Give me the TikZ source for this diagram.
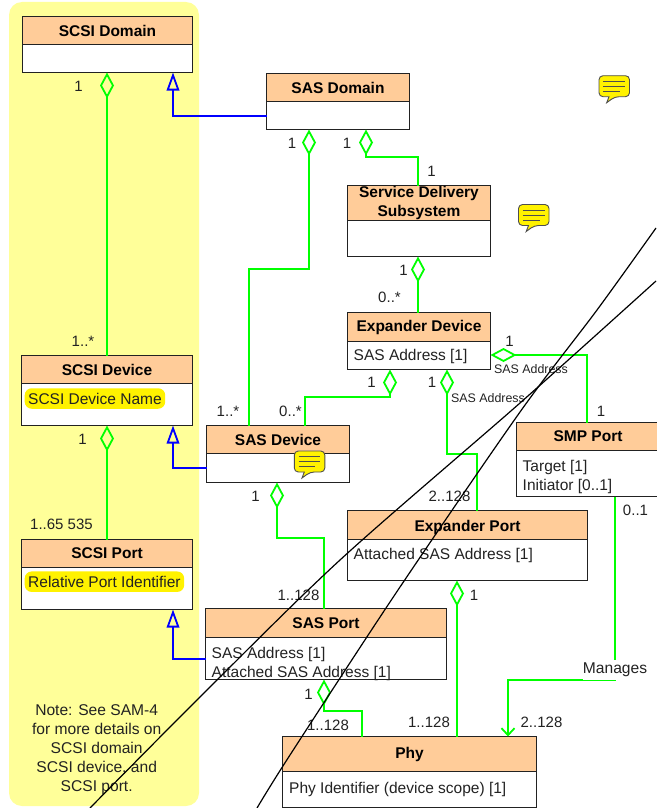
\documentclass[tikz,border=0pt]{standalone}
\usepackage{fontspec}
\setmainfont{Liberation Sans}
\usetikzlibrary{arrows.meta, positioning}

\definecolor{headcolor}{HTML}{FFCC99}
\definecolor{notecolor}{HTML}{FFFF99}
\definecolor{linkgreen}{HTML}{00FF00}
\definecolor{linkblue}{HTML}{0000FF}
\definecolor{boxline}{HTML}{222222}

\tikzset{
    classhead/.style={draw=boxline, fill=headcolor, line width=1pt, inner sep=0pt, outer sep=0pt, anchor=north west, align=center, font=\fontsize{15.5}{19}\selectfont\bfseries},
    classbody/.style={draw=boxline, fill=white, line width=1pt, inner sep=0pt, outer sep=0pt},
    attrtext/.style={inner sep=0pt, anchor=west, align=left, text=boxline, font=\fontsize{15.5}{18.3}\selectfont},
    keyattr/.style={fill=yellow, rounded corners=7pt, inner xsep=3.5pt, inner ysep=0pt, minimum height=20.5pt, anchor=west, text=boxline, font=\fontsize{15.5}{18}\selectfont},
    mult/.style={inner sep=0pt, text=boxline, font=\fontsize{15}{18}\selectfont},
    rolename/.style={inner sep=0pt, text=boxline, font=\fontsize{12.4}{14}\selectfont},
    aggr/.style={draw=linkgreen, line width=1.8pt, arrows={{Diamond[open,length=26pt,width=14pt]}-}},
    assoc/.style={draw=linkgreen, line width=1.8pt, arrows={-{Straight Barb[length=7pt,width=13pt]}}},
    inherit/.style={draw=linkblue, line width=1.8pt, arrows={-{Triangle[open,length=18pt,width=12.5pt]}}},
    crossline/.style={draw=black, line width=1.2pt},
    noteicon/.pic={
        \draw[fill=yellow, draw=boxline!80, line width=0.9pt, rounded corners=4pt] (10,21) -- (0,21) -- (0,0) -- (30.5,0) -- (30.5,21) -- (16,21) [sharp corners] -- (7.7,27) -- cycle;
        \draw[draw=boxline!80, line width=0.8pt] (4.3,5.6) -- (26,5.6) (4.3,10.6) -- (26,10.6) (4.3,15.6) -- (21,15.6);
    }
}

\begin{document}
\begin{tikzpicture}[x=1pt, y=-1pt]
    \useasboundingbox (0,0) rectangle (656,808);
    \fill[notecolor, rounded corners=13pt] (9,2) rectangle (199,806);

    \node[classhead, minimum width=170, minimum height=28] (scsidomain) at (22.5,16.5) {SCSI Domain};
    \node[classbody, minimum width=170, minimum height=28, below=0pt of scsidomain] (scsidomainbody) {};
    \node[classhead, minimum width=143, minimum height=28] (sasdomain) at (266.5,73.5) {SAS Domain};
    \node[classbody, minimum width=143, minimum height=28, below=0pt of sasdomain] (sasdomainbody) {};
    \node[classhead, minimum width=143, minimum height=35] (deliverysub) at (347.5,185.5) {Service Delivery\\Subsystem};
    \node[classbody, minimum width=143, minimum height=36, below=0pt of deliverysub] (deliverysubbody) {};
    \node[classhead, minimum width=143, minimum height=29] (expdevice) at (347.5,312.5) {Expander Device};
    \node[classbody, minimum width=143, minimum height=28, below=0pt of expdevice] (expdevicebody) {};
    \node[classhead, minimum width=143, minimum height=28] (smpport) at (516.5,422.5) {SMP Port};
    \node[classbody, minimum width=143, minimum height=46, below=0pt of smpport] (smpportbody) {};
    \node[classhead, minimum width=240, minimum height=29] (expport) at (347.5,510.5) {\rule{0pt}{17pt}Expander Port};
    \node[classbody, minimum width=240, minimum height=41, below=0pt of expport] (expportbody) {};
    \node[classhead, minimum width=171, minimum height=28] (scsidevice) at (21.5,355.5) {SCSI Device};
    \node[classbody, minimum width=171, minimum height=42, below=0pt of scsidevice] (scsidevicebody) {};
    \node[classhead, minimum width=171, minimum height=28] (scsiport) at (21.5,539.5) {SCSI Port};
    \node[classbody, minimum width=171, minimum height=42, below=0pt of scsiport] (scsiportbody) {};
    \node[classhead, minimum width=143, minimum height=28] (sasdevice) at (206.5,425.5) {SAS Device};
    \node[classbody, minimum width=143, minimum height=29, below=0pt of sasdevice] (sasdevicebody) {};
    \node[classhead, minimum width=241, minimum height=29] (sasport) at (205.5,608.5) {SAS Port};
    \node[classbody, minimum width=241, minimum height=42, below=0pt of sasport] (sasportbody) {};
    \node[classhead, minimum width=254, minimum height=35] (phy) at (282.5,736.5) {Phy};
    \node[classbody, minimum width=254, minimum height=36, below=0pt of phy] (phybody) {};

    \node[attrtext] (expdevicetext) at (353.5,356.5) {SAS Address [1]};
    \node[attrtext] (smpporttext) at (522.5,477) {Target [1]\\Initiator [0..1]};
    \node[attrtext] (expporttext) at (353.5,555) {Attached SAS Address [1]};
    \node[attrtext] (sasporttext) at (211.5,664) {SAS Address [1]\\Attached SAS Address [1]};
    \node[attrtext] (phytext) at (289,789) {Phy Identifier (device scope) [1]};
    \node[keyattr] (scsidevicekey) at (24.5,398.5) {SCSI Device Name};
    \node[keyattr] (scsiportkey) at (24.5,581.7) {Relative Port Identifier};

    \draw[aggr] ([xshift=-0.5]scsidomainbody.south) -- (scsidevice.north);
    \draw[aggr] (scsidevicebody.south) -- (scsiport.north);
    \draw[aggr] ([xshift=-29]sasdomainbody.south) -- ++(0,139.5) -| ([xshift=-29]sasdevice.north);
    \draw[aggr] ([xshift=28]sasdomainbody.south) -- ++(0,27.5) -| ([xshift=-1]deliverysub.north);
    \draw[aggr] ([xshift=-1]deliverysubbody.south) -- ([xshift=-1]expdevice.north);
    \draw[aggr] ([xshift=-29]expdevicebody.south) -- ++(0,27.5) -| ([xshift=27]sasdevice.north);
    \draw[aggr] ([xshift=28]expdevicebody.south) -- ++(0,84.5) -| ([xshift=9.5]expport.north);
    \draw[aggr] ([yshift=0.5]expdevicebody.east) -| ([xshift=-1]smpport.north);
    \draw[aggr] ([xshift=-1]sasdevicebody.south) -- ++(0,55.5) -| ([xshift=-2]sasport.north);
    \draw[aggr] ([xshift=-2]sasportbody.south) -- ++(0,31.5) -| ([xshift=-47.5]phy.north);
    \draw[aggr] ([xshift=-10.5]expportbody.south) -- ([xshift=47.5]phy.north);
    \draw[assoc] ([xshift=27]smpportbody.south) -- ++(0,183.5) -| ([xshift=98.5]phy.north);
    \draw[inherit] ([yshift=-0.5]sasdomainbody.west) -| ([xshift=65.5]scsidomainbody.south);
    \draw[inherit] (sasdevicebody.west) -| ([xshift=66]scsidevicebody.south);
    \draw[inherit] ([yshift=-0.5]sasportbody.west) -| ([xshift=66]scsiportbody.south);

    \node[fill=white, inner xsep=0pt, inner ysep=2pt, minimum height=20pt, text=boxline, font=\fontsize{15.6}{18}\selectfont] (manages) at (615,669.5) {Manages};

    \node[mult] (m1) at (78.5,86) {1};
    \node[mult] (m2) at (292,143) {1};
    \node[mult] (m3) at (347,143) {1};
    \node[mult] (m4) at (431.5,171) {1};
    \node[mult] (m5) at (403.5,270) {1};
    \node[mult] (m6) at (389.5,297) {0..*};
    \node[mult] (m7) at (509.5,341) {1};
    \node[mult] (m8) at (371.5,382) {1};
    \node[mult] (m9) at (432,382) {1};
    \node[mult] (m10) at (601,411) {1};
    \node[mult] (m11) at (449.5,496) {2..128};
    \node[mult] (m12) at (635.5,510) {0..1};
    \node[mult] (m13) at (83,341) {1..*};
    \node[mult] (m14) at (228,411) {1..*};
    \node[mult] (m15) at (290.5,411) {0..*};
    \node[mult] (m16) at (82.5,439) {1};
    \node[mult] (m17) at (255.5,496) {1};
    \node[mult] (m18) at (61.5,524) {1..65 535};
    \node[mult] (m19) at (298.5,595) {1..128};
    \node[mult] (m20) at (474,595) {1};
    \node[mult] (m21) at (308.5,694) {1};
    \node[mult] (m22) at (328,725) {1..128};
    \node[mult] (m23) at (429,722) {1..128};
    \node[mult] (m24) at (541.5,722) {2..128};
    \node[rolename] (r1) at (531,369) {SAS Address};
    \node[rolename] (r2) at (488,398) {SAS Address};

    \node[inner sep=0pt, align=center, text=boxline, font=\fontsize{15.6}{19}\selectfont] (samnote) at (96.7,750) {Note: See SAM-4\\for more details on\\SCSI domain\\SCSI device, and\\SCSI port.};

    \pic at (599,75.7) {noteicon};
    \pic at (518.5,204.5) {noteicon};
    \pic at (294.3,451) {noteicon};

    \draw[crossline] plot[smooth] coordinates {(90,808) (197,700) (340,560) (520,403) (656,281)};
    \draw[crossline] plot[smooth] coordinates {(257,808) (290,755) (398,590) (520,412) (597,310) (656,228)};
\end{tikzpicture}
\end{document}
